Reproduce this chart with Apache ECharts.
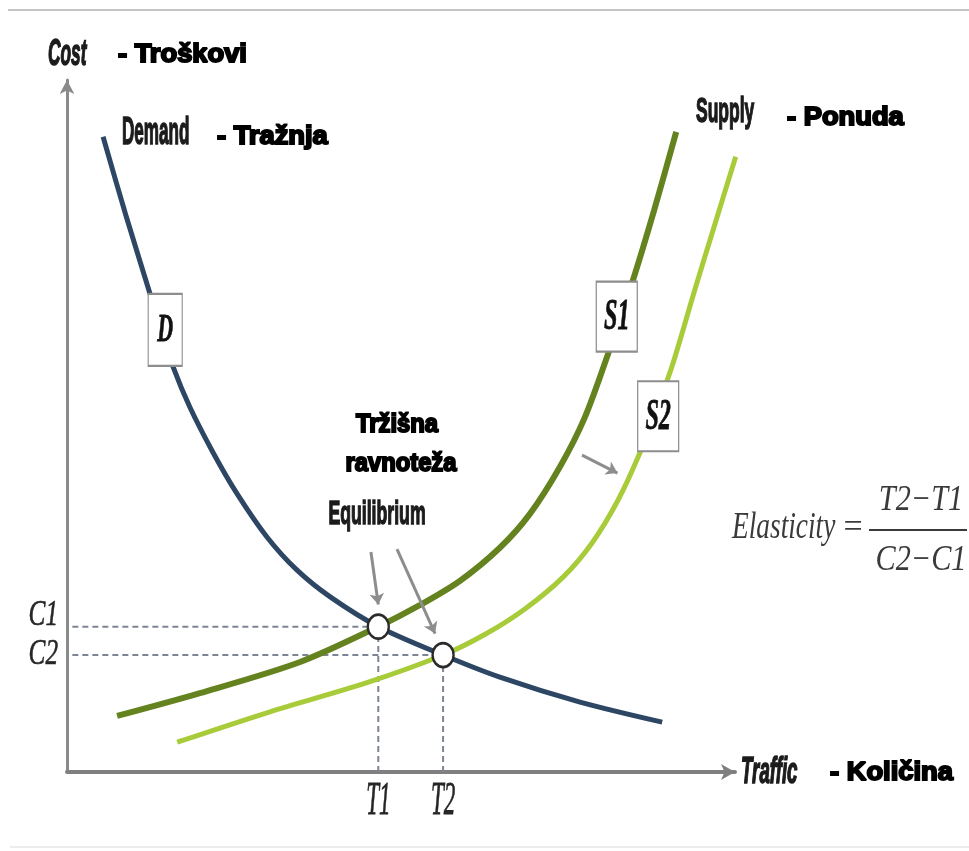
<!DOCTYPE html>
<html><head><meta charset="utf-8">
<script src="https://cdn.jsdelivr.net/npm/echarts@6/dist/echarts.min.js"></script>
<style>html,body{margin:0;padding:0;background:#fff}#c{width:969px;height:851px}</style>
</head><body><div id="c"></div>
<script>
// ---- data (abstract units: traffic 0..100, cost 0..100) ----
const demandCurve = [[5.4,91.8],[8.8,80.5],[12.4,69.2],[14.1,63.9],[15.9,58.5],[18.4,52.7],[21.9,46.1],[25.4,40.3],[29.9,34.0],[34.4,29.2],[39.4,25.3],[46.6,21.0],[56.3,16.9],[64.8,13.7],[76.8,10.1],[89.1,7.2]];
const supply1Curve = [[7.5,8.1],[19.9,11.4],[34.9,15.9],[46.6,21.0],[52.8,24.1],[58.8,27.6],[64.8,32.4],[69.3,37.3],[73.8,44.1],[77.5,51.2],[81.1,60.7],[84.6,70.7],[87.9,81.2],[91.2,92.5]];
const supply2Curve = [[16.5,4.3],[30.4,8.7],[44.9,12.9],[56.3,16.9],[62.6,19.9],[68.6,23.6],[74.3,28.2],[78.6,33.1],[82.5,39.3],[85.8,46.2],[88.2,52.3],[90.6,58.7],[93.9,69.4],[97.0,79.2],[100.1,88.9]];
const equilibria = [[46.6,21.0],[56.3,16.9]];
const costTickLabels = ['C1','C2'];
const trafficTickLabels = ['T1','T2'];
const curveTags = ['D','S1','S2'];
const curveTagAt = [[14.7,63.9],[82.3,65.8],[88.5,51.4]];
const arrowsFromTo = [[[45.5,31.8],[46.6,24.2]],[[49.4,32.2],[55.1,20.0]],[[77.1,45.8],[82.4,43.2]]];

const DEM = '#2d4664', S1C = '#64821e', S2C = '#a8cb3a';

const chart = echarts.init(document.getElementById('c'));
const dashed = {color:'#7d8594', width:2, type:[6,4]};
const series = [];
equilibria.forEach(e => {
  series.push({type:'line', data:[[0.8,e[1]],[e[0],e[1]]], showSymbol:false, symbol:'none', lineStyle:dashed, z:1, silent:true});
  series.push({type:'line', data:[[e[0],0],[e[0],e[1]]], showSymbol:false, symbol:'none', lineStyle:dashed, z:1, silent:true});
});
series.push({type:'line', name:'S1', data:supply1Curve, smooth:0.3, showSymbol:false, symbol:'none', clip:false, lineStyle:{color:S1C, width:6}, z:2});
series.push({type:'line', name:'S2', data:supply2Curve, smooth:0.3, showSymbol:false, symbol:'none', clip:false, lineStyle:{color:S2C, width:5}, z:2});
series.push({type:'line', name:'Demand', data:demandCurve, smooth:0.3, showSymbol:false, symbol:'none', clip:false, lineStyle:{color:DEM, width:5}, z:3,
  markLine:{silent:true, symbol:['none','arrow'], symbolSize:11, label:{show:false}, lineStyle:{color:'#8d8d8d', width:3, type:'solid'},
    data: arrowsFromTo.map(a => [{coord:a[0]},{coord:a[1]}])}});
series.push({type:'scatter', data:curveTagAt.map((p,i)=>[p[0],p[1],curveTags[i]]), symbol:'rect',
  symbolSize:(v,p)=> p.dataIndex===0 ? [34,72] : [41,70],
  itemStyle:{color:'#fff', opacity:1, borderWidth:1.6, borderColor:(p)=>['#55606a','#6d7f34','#7f9034'][p.dataIndex]}, z:5, silent:true});
series.push({type:'scatter', data:equilibria, symbol:'circle', symbolSize:[21,24],
  itemStyle:{color:'#fff', opacity:1, borderColor:'#2b2b2b', borderWidth:2.5}, z:6, silent:true});

chart.setOption({
  animation:false,
  backgroundColor:'#fff',
  grid:{left:67, top:80, width:668, height:692, containLabel:false, outerBoundsMode:'none'},
  xAxis:{type:'value', min:0, max:100, axisLine:{show:true, onZero:false, symbol:['none','arrow'], symbolSize:[12,14], lineStyle:{color:'#7f7f7f', width:4}}, axisTick:{show:false}, axisLabel:{show:false}, splitLine:{show:false}},
  yAxis:{type:'value', min:0, max:100, axisLine:{show:true, onZero:false, symbol:['none','arrow'], symbolSize:[11,14], lineStyle:{color:'#8a8a8a', width:3}}, axisTick:{show:false}, axisLabel:{show:false}, splitLine:{show:false}},
  series
});

const px = p => chart.convertToPixel({gridIndex:0}, p);
function T(text, x, y, o) {
  o = o || {};
  const font = (o.it ? 'italic ' : '') + (o.fw || 'normal') + ' ' + (o.fs || 24) + 'px "' + (o.ff || 'Liberation Sans') + '"';
  return {type:'text', x, y, scaleX:o.sx||1, scaleY:1, z:100, silent:true,
    style:{text, font, fill:o.fill||'#111', stroke:o.stroke||null, lineWidth:o.lw||0,
      align:o.al||'left', textAlign:o.al||'left', verticalAlign:'middle', textVerticalAlign:'middle'}};
}
const condensed = {ff:'Liberation Sans', fw:'bold', fill:'#1b1b1b', stroke:'#1b1b1b', lw:1.5};
const heavy = {ff:'Liberation Sans', fw:'bold', fs:26, sx:1.05, fill:'#000', stroke:'#000', lw:2};
const serifIt = {ff:'Liberation Serif', it:true, fill:'#262626'};
const g = [];
g.push({type:'line', shape:{x1:8,y1:10,x2:969,y2:10}, style:{stroke:'#c4c4c4', lineWidth:2}, silent:true});
g.push({type:'line', shape:{x1:10,y1:847,x2:969,y2:847}, style:{stroke:'#ececec', lineWidth:2}, silent:true});
g.push(T('Cost', 48, 55, Object.assign({}, condensed, {fs:36, sx:0.48, it:true})));
g.push(T('- Troškovi', 118, 55, heavy));
g.push(T('Demand', 122, 134, Object.assign({}, condensed, {fs:38, sx:0.45})));
g.push(T('- Tražnja', 217, 137, heavy));
g.push(T('Supply', 696, 112, Object.assign({}, condensed, {fs:35, sx:0.5})));
g.push(T('- Ponuda', 787, 118, heavy));
g.push(T('Tržišna', 397, 425, Object.assign({}, heavy, {al:'center', sx:0.95, fs:25})));
g.push(T('ravnoteža', 401, 464, Object.assign({}, heavy, {al:'center', sx:0.95, fs:25})));
g.push(T('Equilibrium', 377, 515, Object.assign({}, condensed, {fs:34, sx:0.52, al:'center'})));
g.push(T('Traffic', 741, 773, Object.assign({}, condensed, {fs:36, sx:0.52, it:true})));
g.push(T('- Količina', 830, 773, heavy));
g.push(T('Elasticity', 732, 528, Object.assign({}, serifIt, {fs:38, sx:0.72, fill:'#3a3a3a'})));
g.push(T('=', 853, 528, Object.assign({}, serifIt, {fs:34, sx:1, al:'center', it:false, fill:'#3a3a3a'})));
g.push(T('T2\u2212T1', 921, 501, Object.assign({}, serifIt, {fs:36, sx:0.84, al:'center', fill:'#3a3a3a'})));
g.push({type:'line', shape:{x1:869,y1:530,x2:967,y2:530}, style:{stroke:'#3a3a3a', lineWidth:2}, silent:true});
g.push(T('C2\u2212C1', 921, 561, Object.assign({}, serifIt, {fs:36, sx:0.84, al:'center', fill:'#3a3a3a'})));
// tick labels from equilibrium values
equilibria.forEach((e,i) => {
  const pc = px([0, e[1]]);
  g.push(T(costTickLabels[i], 58, pc[1] + (i===0 ? -11 : -1), Object.assign({}, serifIt, {fs:36, sx:0.7, al:'right', stroke:'#262626', lw:0.6})));
  const pt = px([e[0], 0]);
  g.push(T(trafficTickLabels[i], pt[0], 802, Object.assign({}, serifIt, {fs:46, sx:0.5, al:'center', stroke:'#262626', lw:0.8})));
});
curveTagAt.forEach((p,i) => {
  const q = px(p);
  g.push(T(curveTags[i], q[0], q[1]+1, {ff:'Liberation Serif', it:true, fw:'bold', fs:i===0?40:44, sx:0.55, al:'center', fill:'#111', stroke:'#111', lw:0.8}));
});
chart.setOption({graphic:{elements:g}});
</script>
</body></html>
